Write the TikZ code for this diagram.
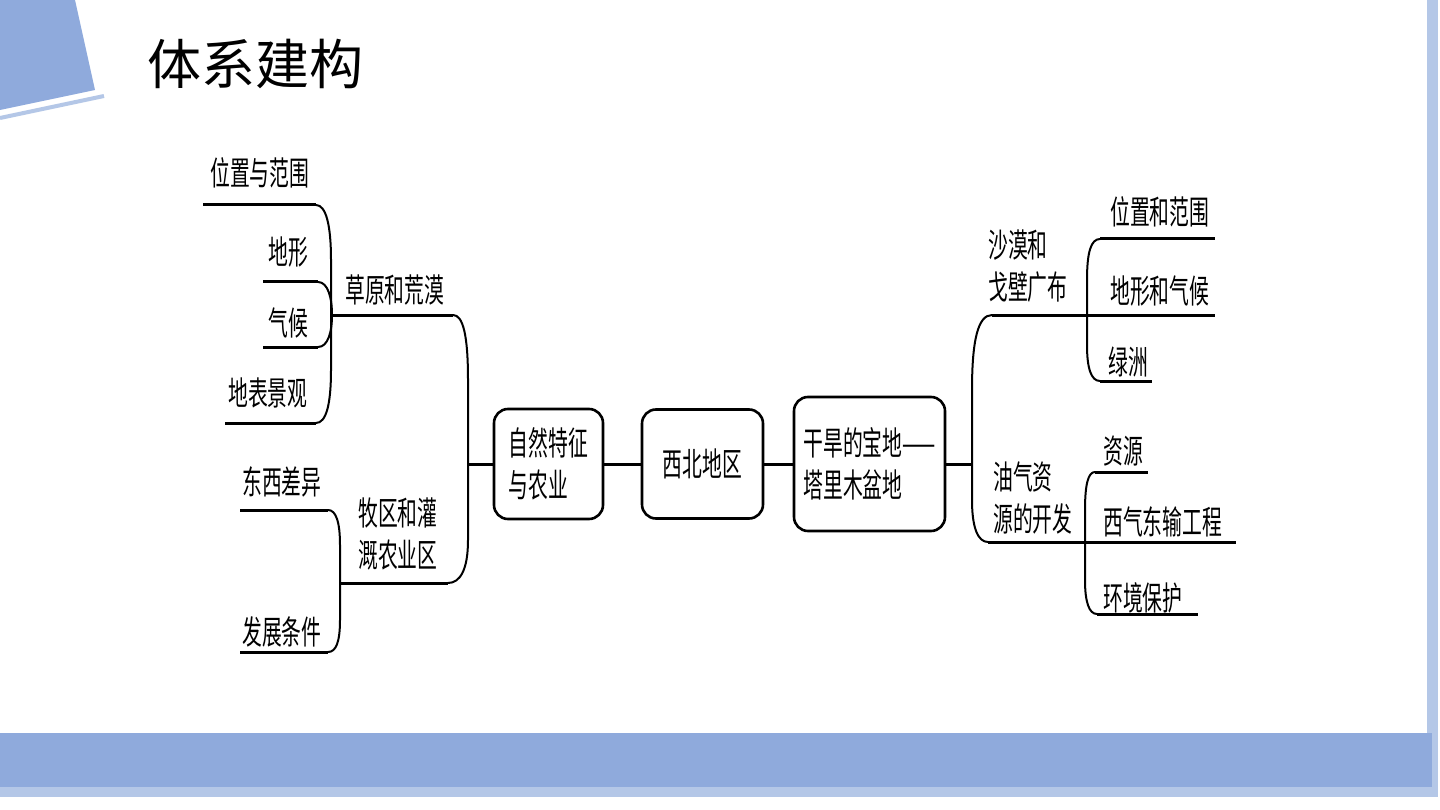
\documentclass[tikz,border=0pt]{standalone}
\usepackage{fontspec}
\newfontfamily\cjk[FakeStretch=0.6]{Noto Sans CJK SC}
\newfontfamily\cjkt{Noto Sans CJK SC}
\definecolor{bandblue}{HTML}{8FAADC}
\definecolor{lightblue}{HTML}{B4C7E7}
\begin{document}
\begin{tikzpicture}[x=1pt,y=-1pt,
  lbl/.style={font=\cjk\fontsize{33}{42}\selectfont, inner sep=0pt, anchor=west, align=left},
  hl/.style={line width=3pt},
  cv/.style={line width=2pt},
  box/.style={draw, line width=2.6pt, rounded corners=14pt, inner sep=0pt, font=\cjk\fontsize{33}{42}\selectfont, align=left}]
\useasboundingbox (0,0) rectangle (1440,810);
\fill[white] (0,0) rectangle (1440,810);
% decorations
\fill[bandblue] (0,0) -- (75,0) -- (95,90) -- (0,110) -- cycle;
\draw[lightblue, line width=4pt] (0,118) -- (104,96);
\fill[lightblue] (1427,0) rectangle (1438,797);
\fill[lightblue] (0,787) rectangle (1438,797);
\fill[bandblue] (0,733) rectangle (1432,787);
% title
\node[font=\cjkt\fontsize{54}{60}\selectfont, inner sep=0pt, anchor=west] (title) at (147,64) {体系建构};
% boxes
\node[box, minimum width=109pt, minimum height=110pt] (box1) at (548.5,464) {自然特征\\与农业};
\node[box, minimum width=121pt, minimum height=109pt] (box2) at (702.5,464) {西北地区};
\node[box, minimum width=151pt, minimum height=134pt] (box3) at (869.5,464) {干旱的宝地——\\塔里木盆地};
\draw[hl] (box1.east) -- (box2.west);
\draw[hl] (box2.east) -- (box3.west);
% left labels
\node[lbl] (l1) at (210,173) {位置与范围};
\node[lbl] (l2) at (268,252) {地形};
\node[lbl] (l3) at (268,323) {气候};
\node[lbl] (l4) at (228,393) {地表景观};
\node[lbl] (lA) at (345,290) {草原和荒漠};
\node[lbl] (l5) at (242,482) {东西差异};
\node[lbl] (lB) at (358,534) {牧区和灌\\溉农业区};
\node[lbl] (l6) at (242,632) {发展条件};
% right labels
\node[lbl] (rA) at (988,266) {沙漠和\\戈壁广布};
\node[lbl] (r1t) at (1110,212) {位置和范围};
\node[lbl] (r2t) at (1110,291) {地形和气候};
\node[lbl] (r3t) at (1108,362) {绿洲};
\node[lbl] (rB) at (993,498) {油气资\\源的开发};
\node[lbl] (s1t) at (1103,451) {资源};
\node[lbl] (s2t) at (1103,522) {西气东输工程};
\node[lbl] (s3t) at (1103,598) {环境保护};
% left group 1
\coordinate (a1) at (203,205); \coordinate (a1e) at (316,205);
\coordinate (a4) at (225,423); \coordinate (a4e) at (316,423);
\coordinate (a2) at (263,282); \coordinate (a2e) at (318,282);
\coordinate (a3) at (263,347); \coordinate (a3e) at (318,347);
\coordinate (jA) at (332,315); \coordinate (cA) at (453,315);
\draw[hl] (a1) -- (a1e);
\draw[cv] (a1e) .. controls (326,205) and (331,225) .. (331,260) -- (331,370) .. controls (331,405) and (326,423) .. (a4e);
\draw[hl] (a4e) -- (a4);
\draw[hl] (a2) -- (a2e);
\draw[cv] (a2e) .. controls (328,282) and (332,298) .. (jA) .. controls (332,332) and (328,347) .. (a3e);
\draw[hl] (a3e) -- (a3);
\draw[hl] (jA) -- (cA);
% big left bracket
\coordinate (cB) at (448,583);
\draw[cv] (cA) .. controls (463,315) and (468,335) .. (468,380) -- (468,540) .. controls (468,570) and (460,583) .. (cB);
\coordinate (jL) at (468,464);
\draw[hl] (jL) -- (box1.west);
% left group 2
\coordinate (b1) at (240,510); \coordinate (b1e) at (328,510);
\coordinate (b2) at (240,652); \coordinate (b2e) at (328,652);
\coordinate (jB) at (340,583);
\draw[hl] (b1) -- (b1e);
\draw[cv] (b1e) .. controls (336,510) and (340,522) .. (340,545) -- (340,620) .. controls (340,642) and (336,652) .. (b2e);
\draw[hl] (b2e) -- (b2);
\draw[hl] (jB) -- (cB);
% right big bracket
\coordinate (jR) at (972,464);
\draw[hl] (box3.east) -- (jR);
\coordinate (cC) at (992,315); \coordinate (cD) at (988,542);
\draw[cv] (cC) .. controls (978,315) and (972,340) .. (972,390) -- (972,500) .. controls (972,528) and (978,542) .. (cD);
\coordinate (eC) at (1215,315); \draw[hl] (cC) -- (eC);
\coordinate (eD) at (1236,542); \draw[hl] (cD) -- (eD);
% top right sub-bracket
\coordinate (r1) at (1100,239); \coordinate (r1e) at (1215,239);
\coordinate (r3) at (1100,381); \coordinate (r3e) at (1152,381);
\draw[cv] (r1) .. controls (1091,239) and (1087,252) .. (1087,280) -- (1087,345) .. controls (1087,368) and (1091,381) .. (r3);
\draw[hl] (r1) -- (r1e);
\draw[hl] (r3) -- (r3e);
% lower right sub-bracket
\coordinate (s1) at (1095,472); \coordinate (s1e) at (1148,472);
\coordinate (s3) at (1097,614); \coordinate (s3e) at (1198,614);
\draw[cv] (s1) .. controls (1088,472) and (1085,485) .. (1085,510) -- (1085,580) .. controls (1085,602) and (1089,614) .. (s3);
\draw[hl] (s1) -- (s1e);
\draw[hl] (s3) -- (s3e);
\end{tikzpicture}
\end{document}
